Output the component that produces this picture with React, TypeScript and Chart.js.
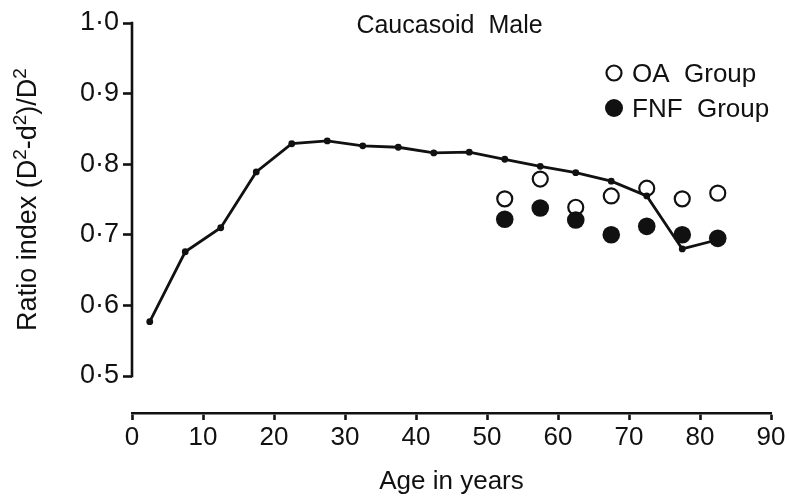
import React, { useEffect, useRef } from "react";
import { Chart, registerables } from "chart.js";

Chart.register(...registerables);

// ---- data ----
const mainAges = [2.5, 7.5, 12.5, 17.5, 22.5, 27.5, 32.5, 37.5, 42.5, 47.5, 52.5, 57.5, 62.5, 67.5, 72.5, 77.5, 82.5];
const mainValues = [0.577, 0.676, 0.71, 0.789, 0.829, 0.833, 0.826, 0.824, 0.816, 0.817, 0.807, 0.797, 0.788, 0.776, 0.755, 0.68, 0.693];
const groupAges = [52.5, 57.5, 62.5, 67.5, 72.5, 77.5, 82.5];
const oaValues = [0.751, 0.779, 0.739, 0.755, 0.766, 0.751, 0.759];
const fnfValues = [0.722, 0.738, 0.721, 0.7, 0.712, 0.7, 0.695];
const yTicks = [0.5, 0.6, 0.7, 0.8, 0.9, 1.0];
const xTicks = [0, 10, 20, 30, 40, 50, 60, 70, 80, 90];
const seriesLabels = ["OA  Group", "FNF  Group"];
const chartTitle = "Caucasoid  Male";
const xTitle = "Age in years";
const yTitleParts: [string, boolean][] = [
  ["Ratio index (D", false],
  ["2", true],
  ["-d", false],
  ["2", true],
  [")/D", false],
  ["2", true],
];

const FONT = '"Liberation Sans", Arial, sans-serif';
const INK = "#111";

const decorPlugin = {
  id: "decor",
  afterDraw(chart: any) {
    const ctx = chart.ctx as CanvasRenderingContext2D;
    const { left, right } = chart.chartArea;
    const ys = chart.scales.y;
    const yTop = ys.getPixelForValue(yTicks[yTicks.length - 1]);
    const yBot = ys.getPixelForValue(yTicks[0]);
    ctx.save();
    // y axis line only over the labelled range
    ctx.strokeStyle = INK;
    ctx.lineWidth = 2.6;
    ctx.beginPath();
    ctx.moveTo(left, yTop - 1.3);
    ctx.lineTo(left, yBot + 1.3);
    ctx.stroke();

    // chart title
    ctx.fillStyle = INK;
    ctx.font = `25px ${FONT}`;
    ctx.textAlign = "center";
    ctx.textBaseline = "alphabetic";
    ctx.fillText(chartTitle, (left + right) / 2 - 2, 33);

    // y title, rotated with raised superscripts
    const mainFont = `27px ${FONT}`;
    const supFont = `19px ${FONT}`;
    let total = 0;
    for (const [t, sup] of yTitleParts) {
      ctx.font = sup ? supFont : mainFont;
      total += ctx.measureText(t).width;
    }
    ctx.translate(0, (yTop + yBot) / 2);
    ctx.rotate(-Math.PI / 2);
    ctx.textAlign = "left";
    let u = -total / 2;
    for (const [t, sup] of yTitleParts) {
      ctx.font = sup ? supFont : mainFont;
      ctx.fillText(t, u, sup ? 26 : 36);
      u += ctx.measureText(t).width;
    }
    ctx.setTransform(1, 0, 0, 1, 0, 0);

    // legend
    const items = [
      { label: seriesLabels[0], filled: false, cy: 73, r: 7.5 },
      { label: seriesLabels[1], filled: true, cy: 108, r: 9 },
    ];
    ctx.font = `26px ${FONT}`;
    ctx.textAlign = "left";
    ctx.textBaseline = "alphabetic";
    for (const it of items) {
      ctx.beginPath();
      ctx.arc(614, it.cy, it.r, 0, Math.PI * 2);
      if (it.filled) {
        ctx.fillStyle = INK;
        ctx.fill();
      } else {
        ctx.lineWidth = 2.2;
        ctx.strokeStyle = INK;
        ctx.stroke();
      }
      ctx.fillStyle = INK;
      ctx.fillText(it.label, 632, it.cy + 9);
    }
    ctx.restore();
  },
};

export default function App() {
  const ref = useRef<HTMLCanvasElement | null>(null);
  useEffect(() => {
    if (!ref.current) return;
    const toXY = (xs: number[], vs: number[]) => xs.map((x, i) => ({ x, y: vs[i] }));
    const chart = new Chart(ref.current, {
      type: "scatter",
      data: {
        datasets: [
          {
            label: "Mean",
            data: toXY(mainAges, mainValues),
            showLine: true,
            borderColor: INK,
            borderWidth: 2.8,
            pointRadius: 3.4,
            pointBackgroundColor: INK,
            pointBorderColor: INK,
            pointBorderWidth: 0,
            order: 3,
          },
          {
            label: seriesLabels[0],
            data: toXY(groupAges, oaValues),
            showLine: false,
            pointRadius: 7.5,
            pointBorderWidth: 2.2,
            pointBorderColor: INK,
            pointBackgroundColor: "rgba(0,0,0,0)",
            order: 2,
          },
          {
            label: seriesLabels[1],
            data: toXY(groupAges, fnfValues),
            showLine: false,
            pointRadius: 8.8,
            pointBorderWidth: 0,
            pointBackgroundColor: INK,
            pointBorderColor: INK,
            order: 1,
          },
        ],
      },
      options: {
        animation: false,
        responsive: true,
        maintainAspectRatio: false,
        layout: { padding: { left: 0, right: 18, top: 23, bottom: 0 } },
        plugins: {
          legend: { display: false },
          tooltip: { enabled: false },
          title: { display: false },
        },
        scales: {
          x: {
            type: "linear",
            min: 0,
            max: 90,
            afterBuildTicks: (s: any) => {
              s.ticks = xTicks.map((v) => ({ value: v }));
            },
            afterFit: (s: any) => {
              s.height = 86;
            },
            ticks: {
              color: INK,
              font: { family: FONT, size: 26 },
              padding: 2,
              maxRotation: 0,
              autoSkip: false,
              callback: (v: any) => String(v),
            },
            grid: {
              display: true,
              drawOnChartArea: false,
              drawTicks: true,
              tickLength: 7,
              tickWidth: 2.6,
              tickColor: INK,
            },
            border: { display: true, color: INK, width: 2.6 },
            title: {
              display: true,
              text: xTitle,
              color: INK,
              font: { family: FONT, size: 26 },
              padding: { top: 0, bottom: 2 },
            },
          },
          y: {
            type: "linear",
            min: 0.4476,
            max: 1.0,
            afterBuildTicks: (s: any) => {
              s.ticks = yTicks.map((v) => ({ value: v }));
            },
            afterFit: (s: any) => {
              s.width = 132;
            },
            ticks: {
              color: INK,
              font: { family: FONT, size: 27 },
              padding: 4,
              autoSkip: false,
              callback: (v: any) => Number(v).toFixed(1).replace(".", "\u00b7"),
            },
            grid: {
              display: true,
              drawOnChartArea: false,
              drawTicks: true,
              tickLength: 9,
              tickWidth: 2.6,
              tickColor: INK,
            },
            border: { display: false },
          },
        },
      },
      plugins: [decorPlugin],
    });
    return () => chart.destroy();
  }, []);
  return (
    <div style={{ position: "fixed", left: 0, top: 0, width: 789, height: 499, background: "#fff" }}>
      <canvas ref={ref} />
    </div>
  );
}
